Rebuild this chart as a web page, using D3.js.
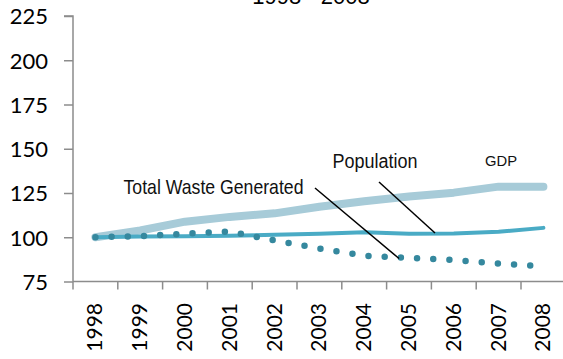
<!DOCTYPE html>
<html>
<head>
<meta charset="utf-8">
<script src="https://cdn.jsdelivr.net/npm/d3@7"></script>
<style>
  html, body { margin: 0; padding: 0; background: #fff; }
  svg { display: block; }
</style>
</head>
<body>
<svg id="chart" width="563" height="359"></svg>
<script>
// Index values, 1998 = 100
const years = ["1998","1999","2000","2001","2002","2003","2004","2005","2006","2007","2008"];
const gdp = [100, 103.8, 108.8, 111.5, 113.5, 117.2, 120.3, 123, 125.2, 128.6, 128.6];
const population = [100, 100.4, 100.6, 100.9, 101.4, 102, 102.8, 102, 102.1, 103.1, 105.3];
const totalWaste = [100, 100.6, 102, 103.2, 98.2, 93.6, 89.6, 88.3, 87.1, 85.2, 83.6];
const yTicks = [75, 100, 125, 150, 175, 200, 225];

const svg = d3.select("#chart");

const plotLeft = 73, plotTop = 16, plotBottom = 281.5, band = 44.8;

const x = d3.scaleBand().domain(years).range([plotLeft, plotLeft + band * years.length]);
const xc = d => x(d) + x.bandwidth() / 2;
const y = d3.scaleLinear().domain([75, 225]).range([plotBottom, plotTop]);

const axisColor = "#8c8c8c";
const tickFont = "Lato, 'Open Sans', sans-serif";

// Title (upper line runs above the visible area)
svg.append("text")
  .attr("x", 311).attr("y", 4)
  .attr("text-anchor", "middle")
  .attr("font-family", "'Liberation Sans', Arial, sans-serif")
  .attr("font-size", 22)
  .attr("fill", "#000")
  .text("1998 - 2008");

// Y axis
const yAxis = svg.append("g")
  .attr("transform", `translate(${plotLeft},0)`)
  .call(d3.axisLeft(y).tickValues(yTicks).tickSize(9).tickPadding(16).tickFormat(d3.format("d")));
yAxis.selectAll("path, line").attr("stroke", axisColor).attr("stroke-width", 1.5);
yAxis.select(".domain").attr("d", `M0,${plotBottom}V${plotTop}H-9`);
yAxis.selectAll("text")
  .attr("font-family", tickFont).attr("font-size", 22).attr("fill", "#000")
  .attr("dy", "0.36em");

// X axis: ticks sit between categories
const xAxisG = svg.append("g").attr("transform", `translate(0,${plotBottom})`);
xAxisG.append("line")
  .attr("x1", plotLeft).attr("x2", x.range()[1])
  .attr("stroke", axisColor).attr("stroke-width", 1.5);
xAxisG.selectAll("line.tick")
  .data(years.concat(["end"]))
  .join("line")
  .attr("class", "tick")
  .attr("x1", (d, i) => plotLeft + i * x.bandwidth())
  .attr("x2", (d, i) => plotLeft + i * x.bandwidth())
  .attr("y1", 0).attr("y2", 8)
  .attr("stroke", axisColor).attr("stroke-width", 1.5);
xAxisG.selectAll("text")
  .data(years)
  .join("text")
  .attr("transform", d => `translate(${xc(d) + 7},${303 - plotBottom}) rotate(-90)`)
  .attr("text-anchor", "end")
  .attr("font-family", tickFont).attr("font-size", 21).attr("fill", "#000")
  .text(d => d);

// Series
const line = d3.line()
  .x((d, i) => xc(years[i]))
  .y(d => y(d));

svg.append("path")
  .datum(gdp)
  .attr("d", line)
  .attr("fill", "none")
  .attr("stroke", "#a7cbd8")
  .attr("stroke-width", 8)
  .attr("stroke-linecap", "round")
  .attr("stroke-linejoin", "round");

svg.append("path")
  .datum(population)
  .attr("d", line)
  .attr("fill", "none")
  .attr("stroke", "#4aabc5")
  .attr("stroke-width", 4)
  .attr("stroke-linecap", "round")
  .attr("stroke-linejoin", "round");

svg.append("path")
  .datum(totalWaste)
  .attr("d", line)
  .attr("fill", "none")
  .attr("stroke", "#35889e")
  .attr("stroke-width", 6.5)
  .attr("stroke-linecap", "round")
  .attr("stroke-dasharray", "0 16.2");

// Series labels with leader lines
const labelFont = "'Liberation Sans Narrow', 'Arial Narrow', 'Liberation Sans', sans-serif";
const labels = [
  { text: "Total Waste Generated", x: 123.5, y: 193.5, size: 21, w: 180 },
  { text: "Population", x: 332.5, y: 167.5, size: 20, w: 85 },
  { text: "GDP", x: 485, y: 166, size: 15, w: 32 }
];
svg.selectAll("text.series-label")
  .data(labels)
  .join("text")
  .attr("class", "series-label")
  .attr("x", d => d.x).attr("y", d => d.y)
  .attr("font-family", labelFont)
  .attr("font-size", d => d.size)
  .attr("textLength", d => d.w)
  .attr("lengthAdjust", "spacingAndGlyphs")
  .attr("fill", "#111")
  .text(d => d.text);

const leaders = [
  { x1: 315, y1: 188, x2: 399, y2: 258.5 },
  { x1: 379, y1: 182, x2: 435, y2: 233 }
];
svg.selectAll("line.leader")
  .data(leaders)
  .join("line")
  .attr("class", "leader")
  .attr("x1", d => d.x1).attr("y1", d => d.y1)
  .attr("x2", d => d.x2).attr("y2", d => d.y2)
  .attr("stroke", "#000").attr("stroke-width", 1.5);
</script>
</body>
</html>
